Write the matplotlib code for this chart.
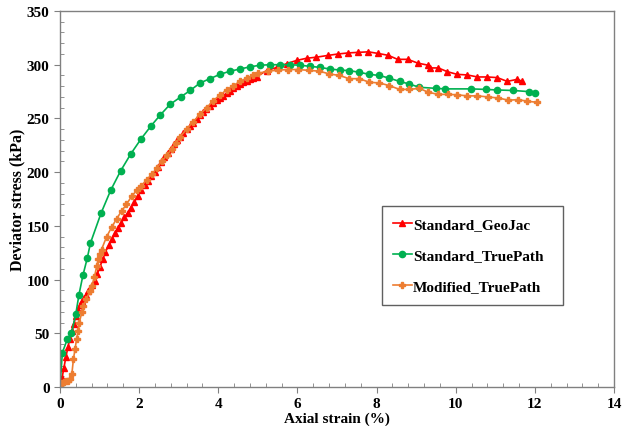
import numpy as np
import matplotlib
matplotlib.use('Agg')
import matplotlib.pyplot as plt
from matplotlib.ticker import MultipleLocator

# Standard_GeoJac (red triangles)
geojac_x = [0, 0.05, 0.10, 0.15, 0.20, 0.25, 0.30, 0.35, 0.40, 0.45, 0.50, 0.55, 0.60, 0.66, 0.71,
            0.76, 0.82, 0.88, 0.94, 1.01, 1.08, 1.15, 1.24, 1.31, 1.39, 1.47, 1.55, 1.63, 1.71, 1.79,
            1.88, 1.96, 2.05, 2.14, 2.22, 2.31, 2.40, 2.48, 2.56, 2.64, 2.72, 2.80, 2.88, 2.96, 3.04,
            3.12, 3.21, 3.29, 3.37, 3.45, 3.54, 3.62, 3.70, 3.79, 3.87, 3.96, 4.05, 4.13, 4.21, 4.30,
            4.38, 4.47, 4.55, 4.63, 4.72, 4.80, 4.88, 4.97, 5.22, 5.48, 5.73, 5.98, 6.23, 6.48, 6.78,
            7.03, 7.29, 7.54, 7.79, 8.04, 8.30, 8.53, 8.79, 9.04, 9.31, 9.35, 9.56, 9.79, 10.04, 10.29,
            10.55, 10.80, 11.05, 11.30, 11.56, 11.68]
geojac_y = [0, 8, 18, 28, 37, 45, 52, 59, 66, 72, 76, 80, 83, 86, 89,
            92, 95, 99, 105, 112, 119, 126, 132, 138, 143, 148, 153, 158, 162, 167,
            172, 178, 183, 188, 192, 196, 200, 205, 209, 214, 218, 222, 226, 230, 233,
            236, 240, 243, 246, 249.5, 253, 256, 259, 261.5, 264, 267, 269, 271, 273.5, 275.5,
            278, 280, 282, 283.5, 285, 286.5, 288, 289, 294.5, 297.5, 301, 304, 306, 307, 308.7,
            310, 311, 311.5, 312, 310.5, 308.7, 305, 305, 301.5, 299.5, 297, 297, 293.5, 291, 290.5,
            288.6, 288.6, 288, 284.5, 286.4, 284.5]

# Standard_TruePath (green circles)
std_x = [0, 0.06, 0.19, 0.29, 0.40, 0.48, 0.58, 0.69, 0.77, 1.04, 1.28, 1.53, 1.79, 2.05, 2.30,
         2.53, 2.78, 3.05, 3.29, 3.54, 3.79, 4.04, 4.30, 4.55, 4.80, 5.05, 5.31, 5.56, 5.81, 6.07,
         6.32, 6.57, 6.82, 7.08, 7.31, 7.56, 7.82, 8.07, 8.32, 8.58, 8.83, 9.08, 9.50, 9.73, 10.38,
         10.77, 11.05, 11.46, 11.84, 12.01]
std_y = [0, 32, 45, 50, 68, 86, 104, 120, 134, 162, 183, 201, 217, 231, 243,
         253, 263, 270, 276, 283, 287, 291, 294, 296, 298, 299.5, 300, 300, 300, 299.5,
         298.5, 297.5, 296, 295, 294.5, 293, 291, 290, 287.5, 284.5, 282, 279, 278, 277.5, 277.5,
         277, 276.5, 276, 275, 274]

# Modified_TruePath (orange plus markers)
mod_x = [0, 0.05, 0.10, 0.15, 0.20, 0.25, 0.30, 0.34, 0.38, 0.42, 0.46, 0.49, 0.55, 0.59, 0.67,
         0.75, 0.80, 0.87, 0.93, 0.97, 1.01, 1.05, 1.18, 1.31, 1.43, 1.56, 1.68, 1.81, 1.94, 2.06,
         2.19, 2.32, 2.44, 2.57, 2.70, 2.82, 2.93, 3.03, 3.20, 3.37, 3.54, 3.71, 3.87, 4.04, 4.21,
         4.38, 4.55, 4.72, 4.88, 5.01, 5.26, 5.52, 5.77, 6.02, 6.30, 6.55, 6.81, 7.06, 7.31, 7.56,
         7.82, 8.07, 8.32, 8.58, 8.83, 9.08, 9.31, 9.56, 9.81, 10.04, 10.29, 10.55, 10.82, 11.08,
         11.33, 11.58, 11.81, 12.06]
mod_y = [0, 4, 5, 6, 6, 7.5, 12, 26, 35, 45, 52, 60, 69.5, 75.7, 82,
         89, 94, 102, 113, 119, 124, 128, 140, 149, 156.5, 164, 170, 177.5, 183, 187.5,
         193, 198, 203.5, 210, 215.6, 221.6, 227, 232.5, 240, 247, 254, 260, 266.5, 271.7, 276.5,
         280.6, 284.5, 287.4, 290.5, 292, 294, 295, 295.5, 295.5, 294.7, 294, 291.4, 290, 287, 287,
         283.7, 283, 280.6, 277, 277, 278, 274.3, 272.4, 272.4, 272, 271, 271, 270, 269,
         267, 267.5, 266, 265]

plt.rcParams['font.family'] = ['Liberation Serif', 'DejaVu Serif']
plt.rcParams['font.weight'] = 'bold'

fig = plt.figure(figsize=(6.3, 4.27), dpi=100)
ax = fig.add_axes([0.0952, 0.0913, 0.8794, 0.8806])

ax.plot(geojac_x, geojac_y, color='#FF0000', lw=1.2, marker='^', ms=4, label='Standard_GeoJac')
ax.plot(std_x, std_y, color='#00B050', lw=1.2, marker='o', ms=4.5, label='Standard_TruePath')
ax.plot(mod_x, mod_y, color='#ED7D31', lw=1.2, marker='P', ms=4, label='Modified_TruePath')

ax.set_xlim(0, 14)
ax.set_ylim(0, 350)
ax.xaxis.set_major_locator(MultipleLocator(2))
ax.xaxis.set_minor_locator(MultipleLocator(0.4))
ax.yaxis.set_major_locator(MultipleLocator(50))
ax.yaxis.set_minor_locator(MultipleLocator(10))

for s in ax.spines.values():
    s.set_color('#808080')
    s.set_linewidth(1.0)
ax.tick_params(which='major', direction='out', length=4, color='#808080', labelsize=11)
ax.tick_params(which='minor', direction='in', length=3, color='#808080')
for lab in ax.get_xticklabels() + ax.get_yticklabels():
    lab.set_fontweight('bold')

ax.set_xlabel('Axial strain (%)', fontsize=11, fontweight='bold', labelpad=1)
ax.set_ylabel('Deviator stress (kPa)', fontsize=11.5, fontweight='bold')
ax.yaxis.set_label_coords(-0.063, 0.5)

leg = ax.legend(loc='lower left', bbox_to_anchor=(0.581, 0.218, 0.327, 0.261), mode='expand',
                borderaxespad=0, handlelength=1.2, handletextpad=0.1, labelspacing=1.15,
                borderpad=0.75, fancybox=False, framealpha=1, edgecolor='#606060',
                prop={'weight': 'bold', 'size': 11})
leg.get_frame().set_linewidth(1.0)

fig.savefig('out.png', dpi=100)
